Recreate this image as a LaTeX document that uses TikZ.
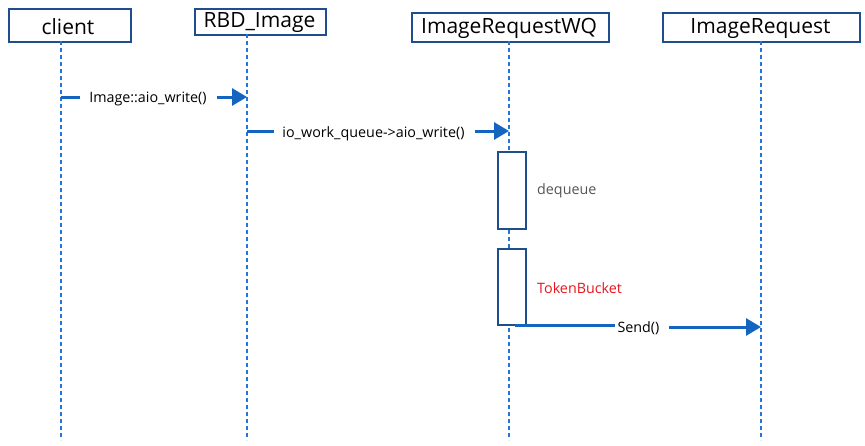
\documentclass[tikz,border=0pt]{standalone}
\usepackage{fontspec}
\setmainfont{Open Sans}
\usetikzlibrary{arrows.meta}
\definecolor{boxblue}{HTML}{1F4E8C}
\definecolor{arrblue}{HTML}{1565C0}
\definecolor{lifeblue}{HTML}{2276DA}
\definecolor{graytxt}{HTML}{555555}
\definecolor{redtxt}{HTML}{E8141B}
\tikzset{
  actor/.style={draw=boxblue, line width=1.6pt, fill=white, anchor=north west, inner sep=0pt},
  actortext/.style={font=\fontsize{21}{21}\selectfont, inner sep=0pt},
  life/.style={draw=lifeblue, line width=1.1pt, dash pattern=on 4pt off 3pt},
  msg/.style={draw=arrblue, line width=3pt},
  msgarrow/.style={msg, -{Triangle[length=15pt,width=17pt]}},
  msglabel/.style={font=\fontsize{14.3}{14.3}\selectfont, inner sep=0pt},
  actbox/.style={draw=boxblue, line width=1.6pt, fill=white, inner sep=0pt, anchor=north west},
}
\begin{document}
\begin{tikzpicture}[x=1pt,y=-1pt]
\useasboundingbox (0,0) rectangle (865,445);
% actors
\node[actor, minimum width=122pt, minimum height=33pt] (client) at (8,8) {};
\node[actortext] at (68,26.5) (clientt) {client};
\node[actor, minimum width=131pt, minimum height=26pt] (rbd) at (194,8) {};
\node[actortext] at (259.5,23) (rbdt) {RBD\_Image};
\node[actor, minimum width=197pt, minimum height=29pt] (wq) at (411,12) {};
\node[actortext] at (509,28.5) (wqt) {ImageRequestWQ};
\node[actor, minimum width=197pt, minimum height=29pt] (ir) at (662,12) {};
\node[actortext] at (760.5,28.5) (irt) {ImageRequest};
% lifelines
\coordinate (c0) at (61,41);  \coordinate (c1) at (61,440);
\coordinate (r0) at (247,34); \coordinate (r1) at (247,440);
\coordinate (w0) at (509,41); \coordinate (w1) at (509,440);
\coordinate (i0) at (761,41); \coordinate (i1) at (761,440);
\draw[life] (c0) -- (c1);
\draw[life] (r0) -- (r1);
\draw[life] (w0) -- (w1);
\draw[life] (i0) -- (i1);
% activation boxes
\node[actbox, minimum width=28pt, minimum height=77pt] (act1) at (497,151) {};
\node[actbox, minimum width=28pt, minimum height=76pt] (act2) at (497,248) {};
% messages
\coordinate (m1s) at (61,97);  \coordinate (m1e) at (247,97);
\node[msglabel] (m1) at (148,99) {Image::aio\_write()};
\draw[msg] (m1s) -- ([xshift=-9pt]m1.west |- m1s);
\draw[msgarrow] ([xshift=10pt]m1.east |- m1s) -- (m1e);
\coordinate (m2s) at (247,131);  \coordinate (m2e) at (509,131);
\node[msglabel] (m2) at (373.5,134) {io\_work\_queue->aio\_write()};
\draw[msg] (m2s) -- ([xshift=-8pt]m2.west |- m2s);
\draw[msgarrow] ([xshift=10pt]m2.east |- m2s) -- (m2e);
\node[msglabel, text=graytxt, anchor=west] (deq) at (537,191) {dequeue};
\node[msglabel, text=redtxt, anchor=west] (tb) at (537,288) {TokenBucket};
\coordinate (m3s) at (515,325);  \coordinate (m3e) at (761,327);
\node[msglabel] (m3) at (638.5,328) {Send()};
\draw[msg] (m3s) -- ([xshift=-2pt]m3.west |- m3s);
\draw[msgarrow] ([xshift=9pt]m3.east |- m3e) -- (m3e);
\end{tikzpicture}
\end{document}
